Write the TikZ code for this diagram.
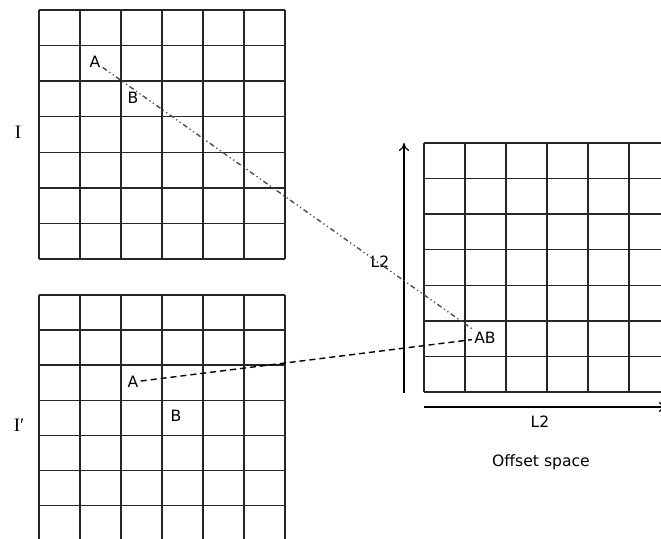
\documentclass[tikz,border=0pt]{standalone}
\usepackage{fontspec}
\setmainfont{DejaVu Sans}
\newfontfamily\imgfont{Liberation Serif}
\usetikzlibrary{arrows.meta,positioning}

\begin{document}
\begin{tikzpicture}[
  x=0.5pt, y=-0.5pt,
  gridline/.style = {line width=0.75pt, black!85},
  lbl/.style      = {inner sep=1pt, font=\fontsize{7.8}{9}\selectfont},
  imgname/.style  = {inner sep=1pt, font=\imgfont\fontsize{9.5}{11}\selectfont},
  axis/.style     = {-{To[length=4pt,width=5pt]}, line width=0.6pt},
  match/.style    = {line width=0.7pt, black!70,
                     dash pattern=on 2.5pt off 1.5pt on 0.6pt off 1.5pt on 0.6pt off 1.5pt},
  offsetline/.style = {line width=0.7pt, dash pattern=on 3pt off 2pt}
]
\useasboundingbox (0,0) rectangle (661,539);
% image I
\foreach \i in {0,...,6}
  \draw[gridline] ({39+41*\i},10) -- ({39+41*\i},259);
\foreach \i in {0,...,7}
  \draw[gridline] (39,{10+35.57*\i}) -- (285,{10+35.57*\i});
% image I'
\foreach \i in {0,...,6}
  \draw[gridline] ({39+41*\i},295) -- ({39+41*\i},540);
\foreach \i in {0,...,7}
  \draw[gridline] (39,{295+35.1*\i}) -- (285,{295+35.1*\i});
% offset space
\foreach \i in {0,...,5}
  \draw[gridline] ({424+41*\i},143) -- ({424+41*\i},392);
\foreach \i in {0,...,7}
  \draw[gridline] (424,{143+35.57*\i}) -- (662,{143+35.57*\i});
\coordinate (yo)   at (404,393);
\coordinate (ytip) at (404,143);
\coordinate (xo)   at (424,407);
\coordinate (xtip) at (667,407);
\draw[axis] (yo) -- (ytip);
\draw[axis] (xo) -- (xtip);

\node[imgname] (I)  at (18,132) {I};
\node[imgname] (Ip) at (19,425) {I′};
\node[lbl] (A)  at (95,62)  {A};
\node[lbl] (B)  at (133,98) {B};
\node[lbl] (Ap) at (133,382) {A};
\node[lbl] (Bp) at (176,416) {B};
\node[lbl] (AB) at (485,338) {AB};
\node[lbl] (L2a) at (380,262) {L2};
\node[lbl] (L2b) at (540,422) {L2};
\node[lbl] (off) at (541,462) {Offset space};

\draw[match] (A) -- (AB);
\draw[offsetline] (Ap) -- (AB);
\end{tikzpicture}
\end{document}
